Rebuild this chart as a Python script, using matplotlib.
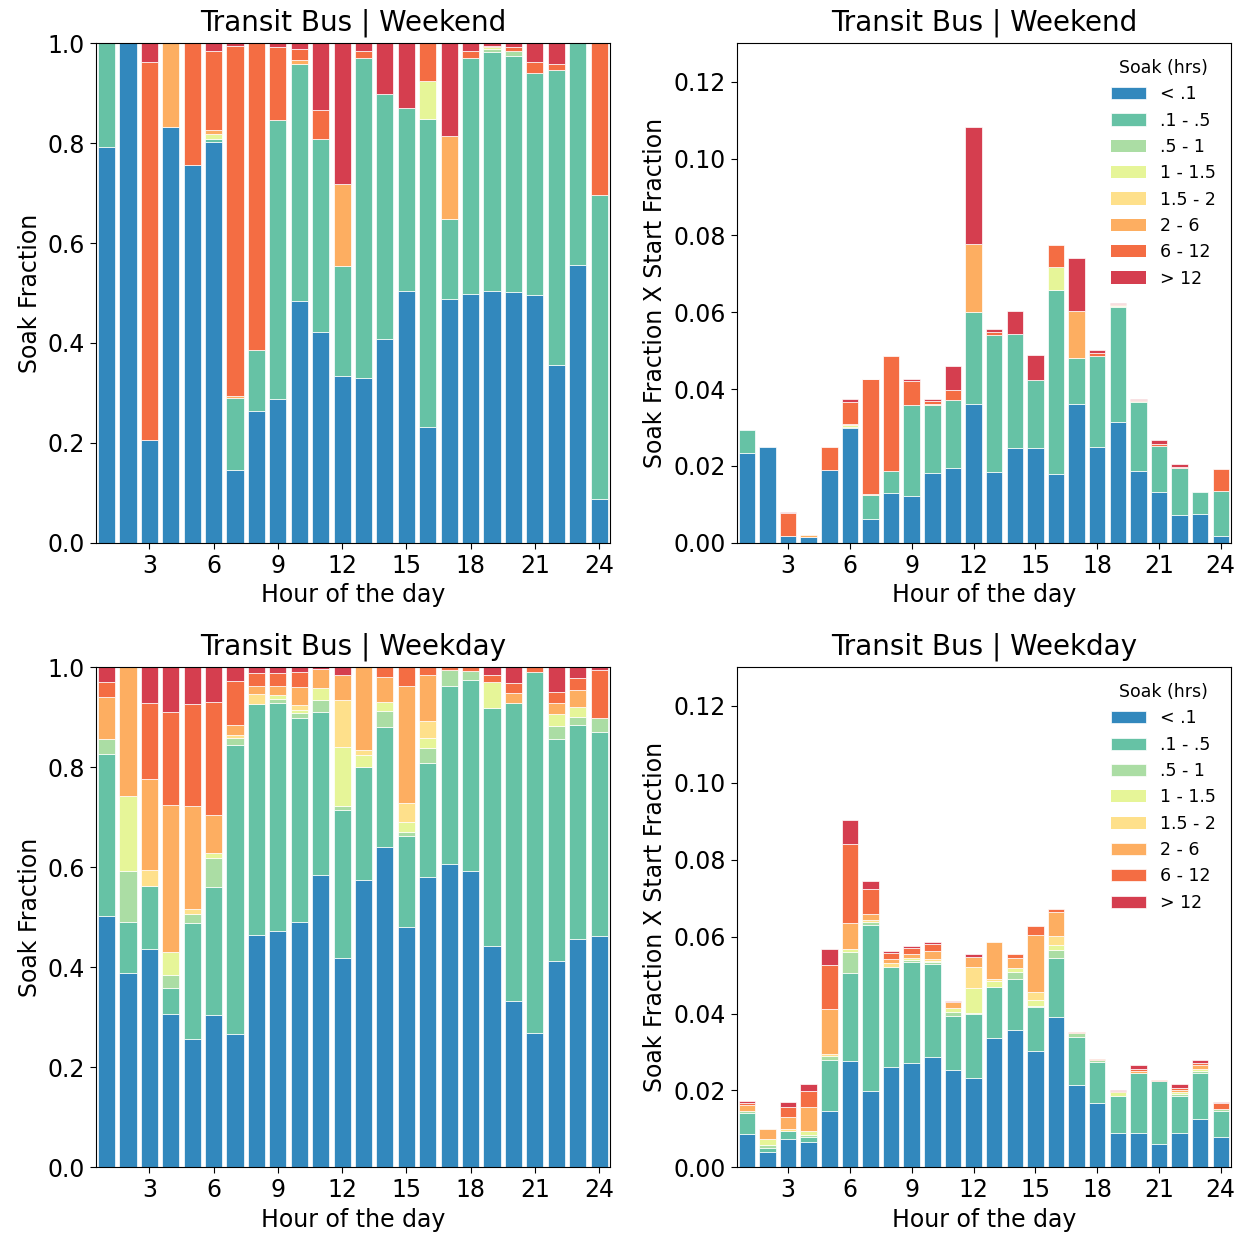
import numpy as np
import matplotlib
matplotlib.use("Agg")
import matplotlib.pyplot as plt

hours = np.arange(1, 25)
soak_labels = ["< .1", ".1 - .5", ".5 - 1", "1 - 1.5", "1.5 - 2", "2 - 6", "6 - 12", "> 12"]
soak_colors = ["#3288bd", "#66c2a5", "#abdda4", "#e6f598", "#fee08b", "#fdae61", "#f46d43", "#d53e4f"]

# Weekend soak fractions, one list per soak bin (hour 1..24)
we_lt01  = [.792, 1.0, .206, .832, .756, .803, .146, .264, .287, .483, .421, .334,
            .330, .408, .504, .232, .487, .497, .503, .501, .495, .356, .557, .087]
we_01_05 = [.208, 0, 0, 0, 0, .005, .143, .121, .559, .476, .387, .220,
            .640, .491, .366, .616, .162, .473, .480, .474, .446, .591, .443, .609]
we_05_1  = [0, 0, 0, 0, 0, 0, 0, 0, 0, 0, 0, 0,
            0, 0, 0, 0, 0, 0, .006, .010, 0, 0, 0, 0]
we_1_15  = [0, 0, 0, 0, 0, .010, 0, 0, 0, 0, 0, 0,
            0, 0, 0, .077, 0, 0, .003, 0, 0, 0, 0, 0]
we_15_2  = [0] * 24
we_2_6   = [0, 0, 0, .168, 0, .008, .005, 0, 0, .008, 0, .164,
            0, 0, 0, 0, .165, 0, 0, 0, 0, 0, 0, 0]
we_6_12  = [0, 0, .757, 0, .244, .159, .701, .615, .147, .021, .058, 0,
            .015, 0, 0, .075, 0, .015, .003, .007, .022, .012, 0, .304]
we_gt12  = [0, 0, .037, 0, 0, .015, .005, 0, .007, .012, .134, .282,
            .015, .101, .130, 0, .186, .015, .005, .008, .037, .041, 0, 0]
we_start = [.0294, .0249, .0080, .0019, .0249, .0373, .0427, .0486, .0425, .0373, .0459, .1082,
            .0556, .0604, .0488, .0776, .0742, .0501, .0624, .0375, .0267, .0206, .0132, .0193]

# Weekday soak fractions
wd_lt01  = [.503, .389, .436, .307, .257, .305, .266, .465, .473, .491, .585, .419,
            .575, .640, .481, .581, .607, .593, .443, .333, .269, .413, .456, .463]
wd_01_05 = [.323, .102, .127, .051, .232, .255, .579, .461, .455, .408, .325, .296,
            .226, .241, .182, .228, .356, .382, .476, .595, .722, .444, .429, .407]
wd_05_1  = [.031, .102, 0, .027, .018, .059, .013, 0, .008, .009, .025, .008,
            0, .032, .007, .029, .032, .018, 0, 0, 0, .026, .016, .028]
wd_1_15  = [0, .150, 0, .045, 0, .010, 0, 0, .009, .007, .023, .118,
            .024, .018, .021, .020, 0, 0, .052, 0, 0, .023, .019, 0]
wd_15_2  = [0, 0, .032, 0, .010, 0, .007, .020, 0, .010, 0, .094,
            .010, 0, .037, .035, 0, 0, 0, 0, 0, 0, 0, 0]
wd_2_6   = [.083, .257, .181, .295, .206, .075, .020, .017, .018, .035, .039, .050,
            .165, .050, .235, .092, 0, 0, 0, .020, 0, .023, .035, 0]
wd_6_12  = [.030, 0, .153, .185, .203, .227, .088, .026, .026, .031, 0, 0,
            0, .019, .037, .015, .005, .007, .014, .021, .009, .021, .023, .097]
wd_gt12  = [.030, 0, .071, .090, .074, .069, .027, .011, .011, .009, .003, .015,
            0, 0, 0, 0, 0, 0, .015, .031, 0, .050, .022, .005]
wd_start = [.0172, .0100, .0169, .0217, .0569, .0904, .0745, .0563, .0576, .0587, .0432, .0556,
            .0587, .0556, .0628, .0673, .0352, .0281, .0202, .0265, .0226, .0217, .0278, .0169]

weekend = [we_lt01, we_01_05, we_05_1, we_1_15, we_15_2, we_2_6, we_6_12, we_gt12]
weekday = [wd_lt01, wd_01_05, wd_05_1, wd_1_15, wd_15_2, wd_2_6, wd_6_12, wd_gt12]


# stacked bars, scale=None gives the plain fraction, else fraction x start fraction
def stacked(ax, fracs, scale=None):
    bottom = np.zeros(24)
    for vals, col, lab in zip(fracs, soak_colors, soak_labels):
        h = np.array(vals, dtype=float)
        if scale is not None:
            h = h * np.array(scale)
        # no outline on empty segments, otherwise they show up as white lines
        edges = ["white" if v > 0 else "none" for v in h]
        ax.bar(hours, h, width=0.8, bottom=bottom, color=col, label=lab,
               edgecolor=edges, linewidth=0.5)
        bottom += h
    ax.set_xlim(0.5, 24.5)
    ax.set_xticks(range(3, 25, 3))
    ax.set_xlabel("Hour of the day", fontsize=17)
    ax.tick_params(labelsize=17, length=4.5)


fig = plt.figure(figsize=(12.46, 12.37), dpi=100)
ax1 = fig.add_axes([0.0769, 0.5613, 0.4125, 0.4037])
ax2 = fig.add_axes([0.5912, 0.5613, 0.3968, 0.4037])
ax3 = fig.add_axes([0.0769, 0.0563, 0.4125, 0.4042])
ax4 = fig.add_axes([0.5912, 0.0563, 0.3968, 0.4042])

for ax, fr, sc, title in [(ax1, weekend, None, "Weekend"), (ax2, weekend, we_start, "Weekend"),
                          (ax3, weekday, None, "Weekday"), (ax4, weekday, wd_start, "Weekday")]:
    stacked(ax, fr, sc)
    ax.set_title("Transit Bus | " + title, fontsize=20, pad=9)
    if sc is None:
        ax.set_ylim(0, 1.0)
        ax.set_yticks(np.arange(0, 1.01, 0.2))
        ax.set_yticklabels([f"{v:.1f}" for v in np.arange(0, 1.01, 0.2)])
        ax.set_ylabel("Soak Fraction", fontsize=17)
    else:
        ax.set_ylim(0, 0.13)
        ax.set_yticks(np.arange(0, 0.121, 0.02))
        ax.set_yticklabels([f"{v:.2f}" for v in np.arange(0, 0.121, 0.02)])
        ax.set_ylabel("Soak Fraction X Start Fraction", fontsize=17)
        ax.legend(title="Soak (hrs)", loc="upper right", frameon=False,
                  fontsize=12.5, title_fontsize=12.5, labelspacing=0.48)

fig.savefig("out.png", dpi=100)
